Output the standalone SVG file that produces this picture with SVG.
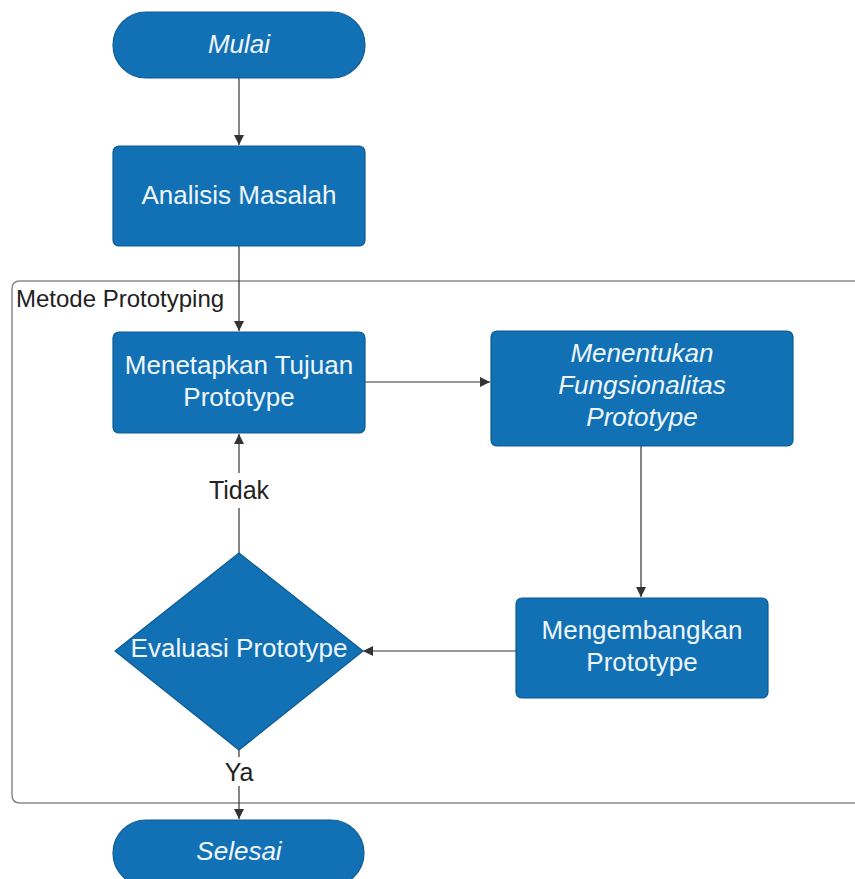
<svg xmlns="http://www.w3.org/2000/svg" width="855" height="879" viewBox="0 0 855 879">
<style>
.n{fill:#1271b4;stroke:#0d5b91;stroke-width:1.2}
.t{font-family:"Liberation Sans",Arial,sans-serif;font-size:26px;fill:#eef6fc;text-anchor:middle;dominant-baseline:central}
.i{font-style:italic}
.c{fill:none;stroke:#333;stroke-width:1.2}
.g{fill:none;stroke:#8a8a8a;stroke-width:1.5}
.l{font-family:"Liberation Sans",Arial,sans-serif;font-size:25px;fill:#222;text-anchor:middle;dominant-baseline:central}
</style>
<defs>
<marker id="a" viewBox="0 0 10 10" refX="10" refY="5" markerWidth="10" markerHeight="10" markerUnits="userSpaceOnUse" orient="auto">
<path d="M0,0 L10,5 L0,10 z" fill="#333"/>
</marker>
</defs>
<rect width="855" height="879" fill="#fff"/>
<g id="container">
<path class="g" d="M870,281 H20 Q12,281 12,289 V795 Q12,803 20,803 H870"/>
<text x="16" y="298" style="font-family:'Liberation Sans',Arial,sans-serif;font-size:24px;fill:#222;dominant-baseline:central">Metode Prototyping</text>
</g>
<g id="connectors">
<line class="c" x1="239" y1="78" x2="239" y2="145" marker-end="url(#a)"/>
<line class="c" x1="239" y1="246" x2="239" y2="331" marker-end="url(#a)"/>
<line class="c" x1="365" y1="382" x2="490" y2="382" marker-end="url(#a)"/>
<line class="c" x1="641" y1="446" x2="641" y2="597" marker-end="url(#a)"/>
<line class="c" x1="516" y1="651" x2="363" y2="651" marker-end="url(#a)"/>
<line class="c" x1="239" y1="553" x2="239" y2="508"/>
<line class="c" x1="239" y1="473" x2="239" y2="434" marker-end="url(#a)"/>
<line class="c" x1="239" y1="750" x2="239" y2="757"/>
<line class="c" x1="239" y1="786" x2="239" y2="819" marker-end="url(#a)"/>
<text class="l" x="239" y="490">Tidak</text>
<text class="l" x="239" y="772">Ya</text>
</g>
<g id="mulai">
<rect class="n" x="113" y="12" width="252" height="66" rx="33"/>
<text class="t i" x="239" y="44">Mulai</text>
</g>
<g id="analisis">
<rect class="n" x="113" y="146" width="252" height="100" rx="6"/>
<text class="t" x="239" y="195">Analisis Masalah</text>
</g>
<g id="menetapkan">
<rect class="n" x="113" y="332" width="252" height="101" rx="6"/>
<text class="t" x="239" y="365">Menetapkan Tujuan</text>
<text class="t" x="239" y="397">Prototype</text>
</g>
<g id="menentukan">
<rect class="n" x="491" y="331" width="302" height="115" rx="6"/>
<text class="t i" x="642" y="353">Menentukan</text>
<text class="t i" x="642" y="385">Fungsionalitas</text>
<text class="t i" x="642" y="417">Prototype</text>
</g>
<g id="mengembangkan">
<rect class="n" x="516" y="598" width="252" height="100" rx="6"/>
<text class="t" x="642" y="630">Mengembangkan</text>
<text class="t" x="642" y="662">Prototype</text>
</g>
<g id="evaluasi">
<path class="n" d="M239,553 L363,651 L239,750 L115,651 z" stroke-linejoin="round"/>
<text class="t" x="239" y="648">Evaluasi Prototype</text>
</g>
<g id="selesai">
<rect class="n" x="113" y="820" width="251" height="66" rx="33"/>
<text class="t i" x="239" y="851">Selesai</text>
</g>
</svg>
